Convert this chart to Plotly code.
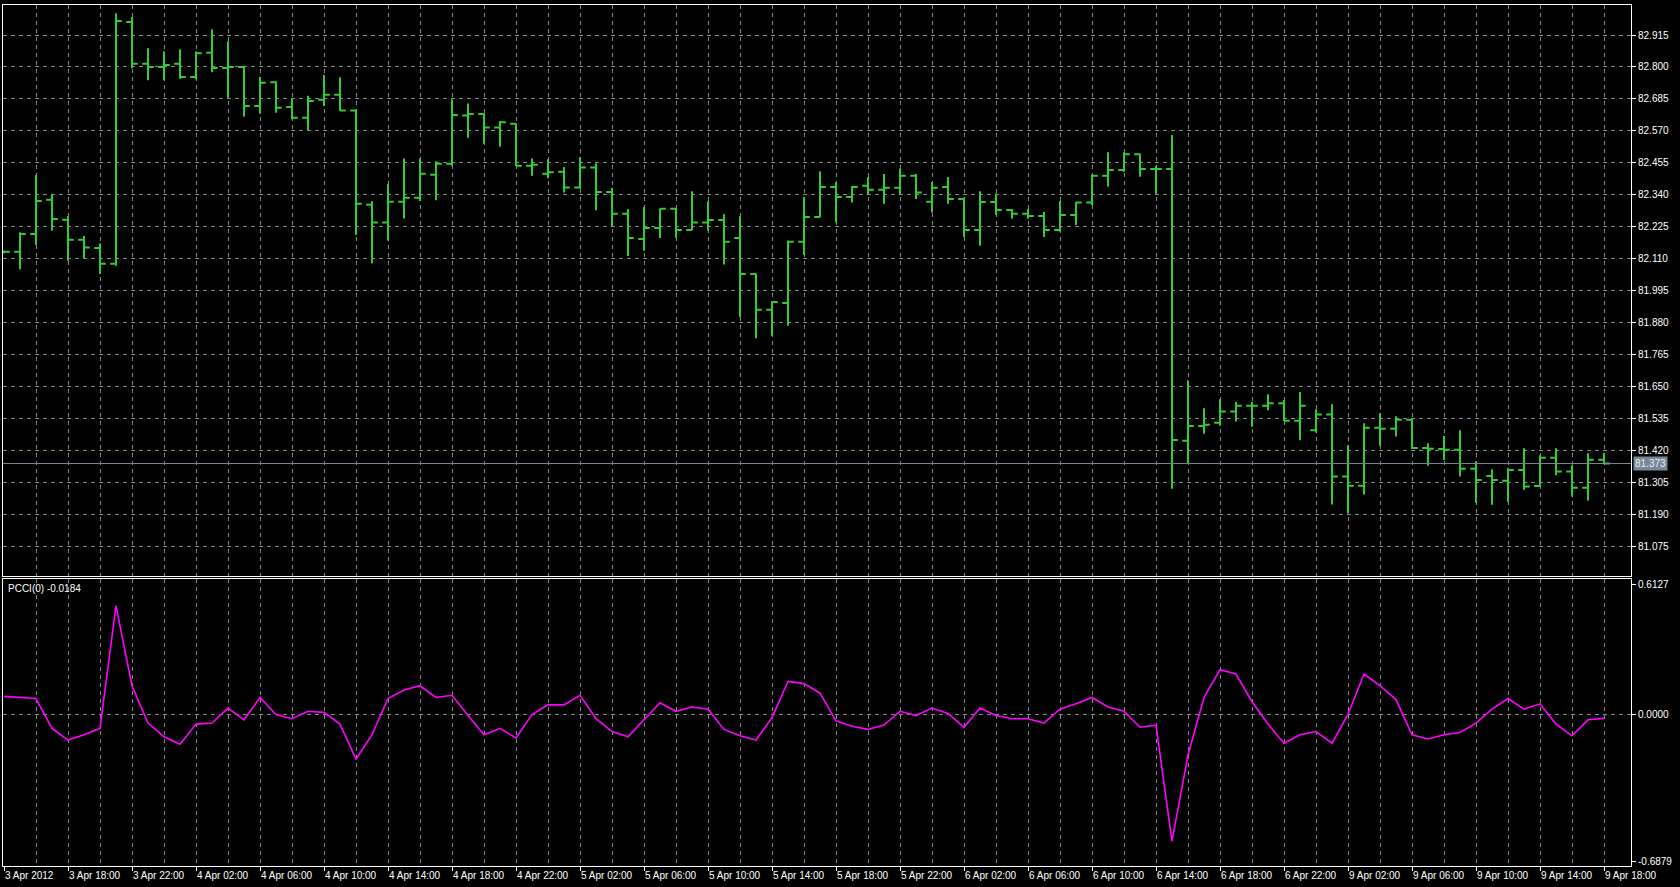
import plotly.graph_objects as go

# ---------------- data ----------------
bar_index = list(range(101))  # hourly bars, 3 Apr 14:00 .. 9 Apr 18:00 (weekend removed)

opens = [82.135, 82.135, 82.199, 82.322, 82.250, 82.178, 82.149, 82.092, 82.962, 82.812,
         82.800, 82.812, 82.764, 82.851, 82.796, 82.800, 82.660, 82.745, 82.656, 82.617,
         82.682, 82.700, 82.643, 82.304, 82.240, 82.315, 82.329, 82.412, 82.452, 82.625,
         82.631, 82.582, 82.596, 82.445, 82.416, 82.423, 82.366, 82.438, 82.350, 82.272,
         82.181, 82.221, 82.290, 82.213, 82.240, 82.249, 82.185, 82.055, 81.926, 81.951,
         82.171, 82.260, 82.368, 82.332, 82.373, 82.358, 82.365, 82.409, 82.315, 82.368,
         82.325, 82.213, 82.314, 82.285, 82.272, 82.264, 82.213, 82.267, 82.312, 82.409,
         82.429, 82.486, 82.433, 82.433, 81.455, 81.508, 81.520, 81.560, 81.581, 81.581,
         81.590, 81.527, 81.493, 81.549, 81.326, 81.293, 81.502, 81.498, 81.531, 81.429,
         81.425, 81.423, 81.354, 81.328, 81.311, 81.350, 81.292, 81.394, 81.344, 81.286, 81.387]

highs = [82.140, 82.205, 82.411, 82.339, 82.264, 82.192, 82.165, 82.993, 82.980, 82.867,
         82.856, 82.864, 82.856, 82.936, 82.893, 82.802, 82.764, 82.748, 82.687, 82.696,
         82.771, 82.763, 82.648, 82.317, 82.380, 82.471, 82.471, 82.461, 82.684, 82.669,
         82.633, 82.606, 82.597, 82.471, 82.468, 82.440, 82.475, 82.453, 82.365, 82.288,
         82.296, 82.291, 82.291, 82.353, 82.317, 82.270, 82.263, 82.055, 81.957, 82.176,
         82.331, 82.425, 82.385, 82.371, 82.404, 82.415, 82.435, 82.415, 82.386, 82.404,
         82.329, 82.353, 82.345, 82.289, 82.289, 82.278, 82.318, 82.314, 82.414, 82.493,
         82.493, 82.488, 82.445, 82.555, 81.673, 81.572, 81.604, 81.594, 81.594, 81.622,
         81.602, 81.630, 81.568, 81.586, 81.439, 81.518, 81.554, 81.543, 81.534, 81.446,
         81.472, 81.493, 81.381, 81.352, 81.356, 81.428, 81.403, 81.428, 81.367, 81.410, 81.411]

lows = [82.130, 82.072, 82.159, 82.211, 82.103, 82.110, 82.055, 82.085, 82.795, 82.752,
        82.752, 82.758, 82.756, 82.781, 82.689, 82.621, 82.632, 82.635, 82.612, 82.573,
        82.660, 82.642, 82.196, 82.094, 82.176, 82.255, 82.318, 82.320, 82.445, 82.545,
        82.524, 82.513, 82.444, 82.409, 82.400, 82.348, 82.362, 82.284, 82.225, 82.120,
        82.140, 82.185, 82.185, 82.213, 82.211, 82.089, 81.900, 81.824, 81.833, 81.869,
        82.123, 82.260, 82.240, 82.312, 82.340, 82.308, 82.343, 82.325, 82.276, 82.308,
        82.188, 82.157, 82.267, 82.254, 82.254, 82.188, 82.207, 82.231, 82.303, 82.369,
        82.423, 82.405, 82.344, 81.282, 81.374, 81.480, 81.509, 81.524, 81.506, 81.565,
        81.526, 81.457, 81.485, 81.226, 81.193, 81.262, 81.437, 81.470, 81.425, 81.365,
        81.386, 81.326, 81.231, 81.225, 81.235, 81.279, 81.289, 81.331, 81.254, 81.239, 81.370]

closes = [82.135, 82.199, 82.318, 82.253, 82.178, 82.150, 82.092, 82.965, 82.812, 82.800,
          82.807, 82.764, 82.849, 82.796, 82.800, 82.660, 82.743, 82.653, 82.617, 82.678,
          82.700, 82.643, 82.308, 82.240, 82.315, 82.329, 82.416, 82.452, 82.627, 82.631,
          82.582, 82.601, 82.445, 82.448, 82.421, 82.366, 82.438, 82.350, 82.272, 82.185,
          82.221, 82.290, 82.213, 82.240, 82.249, 82.171, 82.055, 81.926, 81.954, 82.171,
          82.260, 82.368, 82.332, 82.368, 82.358, 82.365, 82.409, 82.348, 82.365, 82.325,
          82.213, 82.314, 82.285, 82.272, 82.264, 82.213, 82.267, 82.312, 82.409, 82.429,
          82.486, 82.433, 82.433, 81.458, 81.508, 81.513, 81.560, 81.581, 81.581, 81.590,
          81.527, 81.581, 81.549, 81.326, 81.293, 81.502, 81.498, 81.531, 81.429, 81.426,
          81.423, 81.354, 81.314, 81.314, 81.350, 81.290, 81.394, 81.344, 81.286, 81.387, 81.373]

pcci = [0.085, 0.080, 0.075, -0.065, -0.120, -0.095, -0.065, 0.510, 0.135, -0.040,
        -0.105, -0.140, -0.045, -0.040, 0.030, -0.025, 0.080, 0.000, -0.020, 0.015,
        0.010, -0.045, -0.210, -0.095, 0.075, 0.115, 0.135, 0.080, 0.090, -0.005,
        -0.095, -0.065, -0.110, 0.000, 0.045, 0.045, 0.090, -0.020, -0.080, -0.105,
        -0.025, 0.055, 0.015, 0.035, 0.025, -0.070, -0.100, -0.120, -0.015, 0.155,
        0.145, 0.100, -0.030, -0.055, -0.070, -0.050, 0.015, -0.005, 0.030, 0.005,
        -0.060, 0.030, -0.005, -0.020, -0.020, -0.040, 0.025, 0.050, 0.080, 0.035,
        0.015, -0.060, -0.050, -0.595, -0.190, 0.080, 0.210, 0.190, 0.060, -0.045,
        -0.135, -0.095, -0.080, -0.135, 0.000, 0.190, 0.135, 0.070, -0.095, -0.115,
        -0.095, -0.085, -0.040, 0.025, 0.075, 0.025, 0.050, -0.045, -0.100, -0.025, -0.0184]

time_label_bars = list(range(0, 101, 4))
time_labels = ["3 Apr 2012", "3 Apr 18:00", "3 Apr 22:00", "4 Apr 02:00", "4 Apr 06:00",
               "4 Apr 10:00", "4 Apr 14:00", "4 Apr 18:00", "4 Apr 22:00", "5 Apr 02:00",
               "5 Apr 06:00", "5 Apr 10:00", "5 Apr 14:00", "5 Apr 18:00", "5 Apr 22:00",
               "6 Apr 02:00", "6 Apr 06:00", "6 Apr 10:00", "6 Apr 14:00", "6 Apr 18:00",
               "6 Apr 22:00", "9 Apr 02:00", "9 Apr 06:00", "9 Apr 10:00", "9 Apr 14:00",
               "9 Apr 18:00"]

price_ticks = [82.915, 82.800, 82.685, 82.570, 82.455, 82.340, 82.225, 82.110, 81.995,
               81.880, 81.765, 81.650, 81.535, 81.420, 81.305, 81.190, 81.075]
indicator_ticks = [0.6127, 0.0, -0.6879]
indicator_ticktext = ["0.6127", "0.0000", "-0.6879"]
current_price = 81.373
indicator_name = "PCCI(0)"

# ---------------- style / layout ----------------
W, H = 1680, 887
FONT = "Liberation Sans"
GRID = "#8a8a8a"
DASH = "4px,4px"
BAR_GREEN = "#32CD32"
PLOT_L, PLOT_R = 3, 1631
MAIN_T, MAIN_B = 5, 576
IND_T, IND_B = 579, 866

def px_x(p):
    return p / W

def px_y(p):
    return 1 - p / H

fig = go.Figure()

fig.add_trace(go.Ohlc(
    x=bar_index, open=opens, high=highs, low=lows, close=closes,
    increasing=dict(line=dict(color=BAR_GREEN, width=2)),
    decreasing=dict(line=dict(color=BAR_GREEN, width=2)),
    tickwidth=0.36, xaxis="x", yaxis="y", showlegend=False, hoverinfo="skip",
))

fig.add_trace(go.Scatter(
    x=bar_index, y=pcci, mode="lines",
    line=dict(color="#FF00FF", width=1.6),
    xaxis="x2", yaxis="y2", showlegend=False, hoverinfo="skip",
))

xdom = [px_x(PLOT_L), px_x(PLOT_R)]
xrange_ = [-0.0625, 101.6875]

axis_font = dict(family=FONT, size=10, color="white")

fig.update_layout(
    width=W, height=H,
    margin=dict(l=0, r=0, t=0, b=0, autoexpand=False),
    paper_bgcolor="black", plot_bgcolor="black",
    showlegend=False,
    xaxis=dict(domain=xdom, range=xrange_, anchor="y", automargin=False,
               tickmode="linear", tick0=0, dtick=2,
               showticklabels=False, ticks="",
               showgrid=True, gridcolor=GRID, griddash=DASH, gridwidth=1,
               showline=True, linecolor="white", linewidth=1, mirror=True,
               zeroline=False, rangeslider=dict(visible=False), fixedrange=True),
    yaxis=dict(domain=[px_y(MAIN_B), px_y(MAIN_T)], automargin=False,
               range=[80.9683, 83.0230], anchor="x", side="right",
               tickmode="array", tickvals=price_ticks,
               ticktext=[f"{v:.3f}" for v in price_ticks],
               ticks="outside", ticklen=4, tickcolor="white", tickwidth=1,
               tickfont=axis_font,
               showgrid=True, gridcolor=GRID, griddash=DASH, gridwidth=1,
               showline=True, linecolor="white", linewidth=1, mirror=True,
               zeroline=False, fixedrange=True),
    xaxis2=dict(domain=xdom, range=xrange_, anchor="y2", automargin=False,
                tickmode="array", tickvals=time_label_bars, ticktext=time_labels,
                ticks="outside", ticklen=4, tickcolor="white", tickwidth=1,
                ticklabelposition="outside right",
                tickfont=axis_font,
                showgrid=True, gridcolor=GRID, griddash=DASH, gridwidth=1,
                minor=dict(tickmode="linear", tick0=0, dtick=2, showgrid=True,
                           gridcolor=GRID, griddash=DASH, gridwidth=1, ticks=""),
                showline=True, linecolor="white", linewidth=1, mirror=True,
                zeroline=False, fixedrange=True),
    yaxis2=dict(domain=[px_y(IND_B), px_y(IND_T)], automargin=False,
                range=[-0.7114, 0.6362], anchor="x2", side="right",
                tickmode="array", tickvals=indicator_ticks, ticktext=indicator_ticktext,
                ticks="outside", ticklen=4, tickcolor="white", tickwidth=1,
                tickfont=axis_font, showgrid=False,
                showline=True, linecolor="white", linewidth=1, mirror=True,
                zeroline=False, fixedrange=True),
)

# dashed zero level in indicator window
fig.add_shape(type="line", xref="x2 domain", yref="y2", x0=0, x1=1, y0=0, y1=0,
              line=dict(color=GRID, width=1, dash=DASH), layer="below")

# current price line + label
fig.add_shape(type="line", xref="x domain", yref="y", x0=0, x1=1,
              y0=current_price, y1=current_price,
              line=dict(color="#778899", width=1), layer="above")
fig.add_annotation(xref="paper", yref="y", x=px_x(PLOT_R + 2), y=current_price,
                   xanchor="left", yanchor="middle", text=f"{current_price:.3f}",
                   showarrow=False, bgcolor="#778899", borderpad=1,
                   font=dict(family=FONT, size=10, color="#e8ecf0"))

# indicator caption
fig.add_annotation(xref="paper", yref="paper", x=px_x(6), y=px_y(581),
                   xanchor="left", yanchor="top",
                   text=f"{indicator_name} {pcci[-1]:.4f}", showarrow=False,
                   font=dict(family=FONT, size=10, color="white"))

fig.write_html("out.html", config={"displayModeBar": False},
               post_script="document.body.style.margin='0';document.body.style.background='black';")
